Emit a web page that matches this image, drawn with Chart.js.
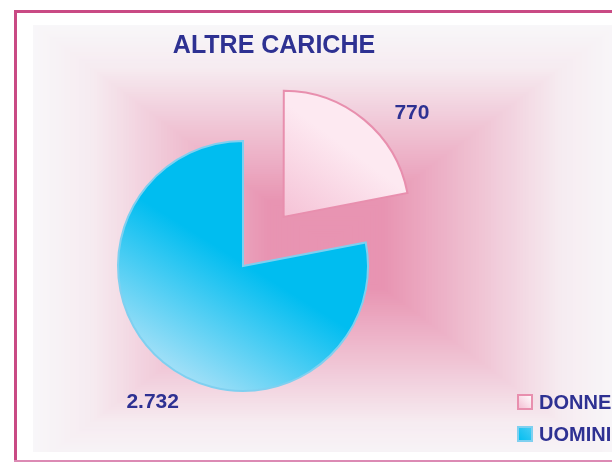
<!DOCTYPE html>
<html>
<head>
<meta charset="utf-8">
<script src="https://cdn.jsdelivr.net/npm/chart.js@4/dist/chart.umd.min.js"></script>
<style>
html, body { margin: 0; padding: 0; background: #fff; overflow: hidden; }
#wrap { width: 612px; height: 462px; overflow: hidden; position: relative; }
canvas { display: block; }
</style>
</head>
<body>
<div id="wrap"><canvas id="chart1" width="680" height="462"></canvas></div>
<script>
// data
const chartTitle = 'ALTRE CARICHE';
const labels = ['DONNE', 'UOMINI'];
const values = [770, 2732];

// looks
const textColor = '#2e3192';
const fontFamily = "Arial, 'Liberation Sans', sans-serif";
const edgeColors = ['#e88fae', '#7fd0f0'];
const darkFill = ['#f5c2d6', '#00bdf0'];
const lightFill = ['#fde9f1', '#b2e3f8'];
const labelAngleAdjust = [11.6, -6.1]; // degrees, where the value label sits

function fmt(v) {
    return String(v).replace(/\B(?=(\d{3})+(?!\d))/g, '.');
}

function sliceFill(context) {
    const chart = context.chart;
    const area = chart.chartArea;
    const i = context.dataIndex;
    if (!area) return darkFill[i];
    const cx = (area.left + area.right) / 2;
    const cy = (area.top + area.bottom) / 2;
    let g;
    if (i == 0) {
        g = chart.ctx.createLinearGradient(cx, cy, cx + 55, cy - 75);
        g.addColorStop(0, darkFill[0]);
        g.addColorStop(1, lightFill[0]);
    } else {
        g = chart.ctx.createLinearGradient(cx - 70, cy + 120, cx + 5, cy);
        g.addColorStop(0, lightFill[1]);
        g.addColorStop(1, darkFill[1]);
    }
    return g;
}

function mix(a, b, t) {
    const pa = [1, 3, 5].map(k => parseInt(a.substr(k, 2), 16));
    const pb = [1, 3, 5].map(k => parseInt(b.substr(k, 2), 16));
    return 'rgb(' + pa.map((v, k) => Math.round(v + (pb[k] - v) * t)).join(',') + ')';
}

const panelPlugin = {
    id: 'panel',
    beforeDraw(chart) {
        const c = chart.ctx;
        const W = chart.width;
        c.save();
        c.fillStyle = '#ffffff';
        c.fillRect(0, 0, W, chart.height);
        // shaded panel, rectangular gradient from the middle
        const px = 33, py = 25, pb = 452;
        c.beginPath();
        c.rect(px, py, W - px, pb - py);
        c.clip();
        const inner = '#e894b2', outer = '#f8f7f9';
        c.fillStyle = outer;
        c.fillRect(px, py, W - px, pb - py);
        const cx = 326, cy = 245, hw = 294, hh = 222;
        const steps = 100;
        for (let s = steps; s >= 0; s--) {
            const t = s / steps;
            let f;
            if (t < 0.2) f = 0;
            else if (t < 0.8) f = (t - 0.2) / 0.6 * 0.88;
            else f = 0.88 + (t - 0.8) / 0.2 * 0.12;
            c.fillStyle = mix(inner, outer, f);
            c.fillRect(cx - hw * t, cy - hh * t, 2 * hw * t, 2 * hh * t);
        }
        c.restore();
        // frame
        c.save();
        c.fillStyle = '#c94a84';
        c.fillRect(14, 10, W, 3);
        c.fillRect(14, 10, 3, 452);
        c.fillStyle = '#dc8ab4';
        c.fillRect(14, 460, W, 2);
        c.restore();
    }
};

const textPlugin = {
    id: 'texts',
    afterDraw(chart) {
        const c = chart.ctx;
        c.save();
        c.fillStyle = textColor;
        // title
        c.font = 'bold 25px ' + fontFamily;
        c.textAlign = 'center';
        c.textBaseline = 'alphabetic';
        c.fillText(chartTitle, 274, 53);

        // value labels
        const meta = chart.getDatasetMeta(0);
        const ds = chart.data.datasets[0];
        c.font = 'bold 21px ' + fontFamily;
        c.textBaseline = 'middle';
        meta.data.forEach((el, i) => {
            const p = el.getProps(['x', 'y', 'startAngle', 'endAngle', 'outerRadius'], true);
            const mid = (p.startAngle + p.endAngle) / 2;
            const sweep = p.endAngle - p.startAngle;
            const off = (ds.offset[i] || 0) / 4;
            const shift = off * (1 + (1 - Math.sin(Math.min(Math.PI, sweep))));
            const ox = p.x + Math.cos(mid) * shift;
            const oy = p.y + Math.sin(mid) * shift;
            const a = mid + labelAngleAdjust[i] * Math.PI / 180;
            const d = p.outerRadius * 1.31;
            c.fillText(fmt(ds.data[i]), ox + Math.cos(a) * d, oy + Math.sin(a) * d);
        });

        // legend
        c.font = 'bold 20px ' + fontFamily;
        c.textAlign = 'left';
        labels.forEach((lab, i) => {
            const bx = 518, by = 395 + i * 32;
            let g = c.createLinearGradient(bx, by + 14, bx + 14, by);
            g.addColorStop(0, i == 0 ? '#f4bcd2' : darkFill[1]);
            g.addColorStop(1, i == 0 ? '#ffffff' : '#48cdf4');
            c.fillStyle = g;
            c.fillRect(bx, by, 14, 14);
            c.strokeStyle = edgeColors[i];
            c.lineWidth = 2;
            c.strokeRect(bx, by, 14, 14);
            c.fillStyle = textColor;
            c.fillText(lab, 539, by + 8);
        });
        c.restore();
    }
};

const ctx1 = document.getElementById('chart1').getContext('2d');
const chart1 = new Chart(ctx1, {
    type: 'pie',
    data: {
        labels: labels,
        datasets: [
            {
                data: values,
                backgroundColor: sliceFill,
                borderColor: edgeColors,
                borderWidth: 2,
                borderJoinStyle: 'miter',
                offset: [255, 0]
            }
        ]
    },
    options: {
        responsive: false,
        animation: false,
        rotation: 0,
        radius: 125,
        layout: { padding: { left: 0, right: 194, top: 70, bottom: 0 } },
        plugins: {
            legend: { display: false },
            tooltip: { enabled: false },
            title: { display: false }
        }
    },
    plugins: [panelPlugin, textPlugin]
});
</script>
</body>
</html>
